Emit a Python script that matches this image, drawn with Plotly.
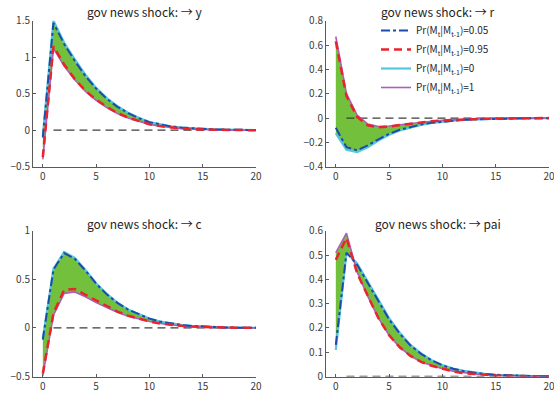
import plotly.graph_objects as go

t = list(range(21))
t_zero = list(range(1, 21))
zero_line = [0.0] * 20

# panel: y
y_p005 = [-0.10, 1.47, 1.18, 0.95, 0.74, 0.57, 0.43, 0.32, 0.235, 0.165, 0.11, 0.078, 0.052, 0.036, 0.025, 0.017, 0.012, 0.008, 0.005, 0.003, 0.002]
y_p095 = [-0.37, 1.15, 0.90, 0.70, 0.54, 0.42, 0.32, 0.235, 0.172, 0.122, 0.082, 0.056, 0.036, 0.023, 0.014, 0.009, 0.005, 0.003, 0.002, 0.001, 0.0]
y_p0 = [-0.08, 1.50, 1.20, 0.97, 0.76, 0.58, 0.44, 0.33, 0.24, 0.17, 0.112, 0.08, 0.054, 0.037, 0.026, 0.018, 0.012, 0.008, 0.005, 0.003, 0.002]
y_p1 = [-0.40, 1.12, 0.88, 0.69, 0.53, 0.41, 0.31, 0.23, 0.168, 0.12, 0.08, 0.055, 0.035, 0.022, 0.013, 0.008, 0.004, 0.002, 0.001, 0.0, 0.0]

# panel: r
r_p005 = [-0.08, -0.24, -0.265, -0.225, -0.175, -0.13, -0.097, -0.072, -0.053, -0.039, -0.029, -0.021, -0.015, -0.011, -0.008, -0.006, -0.004, -0.003, -0.002, -0.001, -0.001]
r_p095 = [0.63, 0.18, 0.01, -0.06, -0.075, -0.07, -0.058, -0.046, -0.036, -0.027, -0.02, -0.015, -0.011, -0.008, -0.006, -0.004, -0.003, -0.002, -0.001, -0.001, 0.0]
r_p0 = [-0.126, -0.26, -0.28, -0.24, -0.185, -0.138, -0.102, -0.076, -0.056, -0.041, -0.03, -0.022, -0.016, -0.012, -0.008, -0.006, -0.004, -0.003, -0.002, -0.001, -0.001]
r_p1 = [0.67, 0.20, 0.025, -0.05, -0.07, -0.066, -0.055, -0.044, -0.034, -0.026, -0.019, -0.014, -0.01, -0.007, -0.005, -0.004, -0.003, -0.002, -0.001, -0.001, 0.0]

# panel: c
c_p005 = [-0.12, 0.60, 0.77, 0.71, 0.59, 0.455, 0.345, 0.257, 0.188, 0.138, 0.095, 0.065, 0.045, 0.03, 0.02, 0.013, 0.008, 0.005, 0.003, 0.002, 0.001]
c_p095 = [-0.47, 0.15, 0.39, 0.40, 0.34, 0.28, 0.22, 0.168, 0.126, 0.093, 0.067, 0.046, 0.031, 0.021, 0.014, 0.009, 0.006, 0.004, 0.002, 0.001, 0.001]
c_p0 = [-0.11, 0.61, 0.78, 0.72, 0.595, 0.46, 0.35, 0.26, 0.19, 0.14, 0.096, 0.066, 0.046, 0.031, 0.021, 0.014, 0.009, 0.006, 0.004, 0.002, 0.001]
c_p1 = [-0.49, 0.13, 0.355, 0.37, 0.32, 0.26, 0.21, 0.16, 0.12, 0.09, 0.065, 0.045, 0.03, 0.02, 0.013, 0.008, 0.005, 0.003, 0.002, 0.001, 0.0]

# panel: pai
pai_p005 = [0.13, 0.51, 0.46, 0.385, 0.31, 0.235, 0.176, 0.128, 0.093, 0.066, 0.046, 0.032, 0.022, 0.015, 0.01, 0.007, 0.005, 0.003, 0.002, 0.001, 0.001]
pai_p095 = [0.48, 0.57, 0.425, 0.33, 0.24, 0.17, 0.12, 0.085, 0.06, 0.044, 0.031, 0.021, 0.014, 0.01, 0.006, 0.004, 0.003, 0.002, 0.001, 0.001, 0.0]
pai_p0 = [0.11, 0.51, 0.465, 0.39, 0.315, 0.24, 0.18, 0.13, 0.095, 0.067, 0.047, 0.033, 0.023, 0.016, 0.011, 0.007, 0.005, 0.003, 0.002, 0.001, 0.001]
pai_p1 = [0.51, 0.59, 0.43, 0.33, 0.24, 0.17, 0.12, 0.085, 0.06, 0.045, 0.032, 0.022, 0.015, 0.01, 0.007, 0.004, 0.003, 0.002, 0.001, 0.001, 0.0]

titles = ["gov news shock: \u2192 y", "gov news shock: \u2192 r",
          "gov news shock: \u2192 c", "gov news shock: \u2192 pai"]
legend_names = ["Pr(M<sub>t</sub>|M<sub>t-1</sub>)=0.05",
                "Pr(M<sub>t</sub>|M<sub>t-1</sub>)=0.95",
                "Pr(M<sub>t</sub>|M<sub>t-1</sub>)=0",
                "Pr(M<sub>t</sub>|M<sub>t-1</sub>)=1"]
y_ranges = [[-0.5, 1.5], [-0.4, 0.8], [-0.5, 1.0], [0, 0.6]]
y_dticks = [0.5, 0.2, 0.5, 0.1]

panels = [
    (y_p005, y_p095, y_p0, y_p1),
    (r_p005, r_p095, r_p0, r_p1),
    (c_p005, c_p095, c_p0, c_p1),
    (pai_p005, pai_p095, pai_p0, pai_p1),
]

W, H = 554, 397
x_doms = [[33 / W, 256 / W], [326 / W, 549 / W]]
y_doms = [[1 - 166.7 / H, 1 - 20.7 / H], [1 - 376.5 / H, 1 - 230.7 / H]]

GREEN = "rgb(115,192,60)"
CYAN = "rgb(85,200,220)"
MAGENTA = "rgb(172,95,185)"
BLUE = "rgb(30,75,170)"
RED = "rgb(235,35,45)"

fig = go.Figure()
for i, (p005, p095, p0, p1) in enumerate(panels):
    xa = "x" if i == 0 else f"x{i+1}"
    ya = "y" if i == 0 else f"y{i+1}"
    leg = (i == 1)
    fig.add_trace(go.Scatter(x=t, y=p1, xaxis=xa, yaxis=ya, mode="lines",
                             line=dict(width=0, color=GREEN), showlegend=False, hoverinfo="skip"))
    fig.add_trace(go.Scatter(x=t, y=p0, xaxis=xa, yaxis=ya, mode="lines", fill="tonexty",
                             fillcolor=GREEN, line=dict(width=0.8, color=GREEN),
                             showlegend=False, hoverinfo="skip"))
    fig.add_trace(go.Scatter(x=t_zero, y=zero_line, xaxis=xa, yaxis=ya, mode="lines",
                             line=dict(color="rgb(60,60,60)", width=1.3, dash="8px,5px"),
                             showlegend=False))
    fig.add_trace(go.Scatter(x=t, y=p0, xaxis=xa, yaxis=ya, mode="lines", name=legend_names[2],
                             line=dict(color=CYAN, width=2.2), showlegend=leg, legendrank=3))
    fig.add_trace(go.Scatter(x=t, y=p1, xaxis=xa, yaxis=ya, mode="lines", name=legend_names[3],
                             line=dict(color=MAGENTA, width=1.6), showlegend=leg, legendrank=4))
    fig.add_trace(go.Scatter(x=t, y=p005, xaxis=xa, yaxis=ya, mode="lines", name=legend_names[0],
                             line=dict(color=BLUE, width=2, dash="dashdot"), showlegend=leg, legendrank=1))
    fig.add_trace(go.Scatter(x=t, y=p095, xaxis=xa, yaxis=ya, mode="lines", name=legend_names[1],
                             line=dict(color=RED, width=2.5, dash="8px,5px"), showlegend=leg, legendrank=2))

axis_common = dict(showline=True, linecolor="rgb(90,90,90)", linewidth=1, ticks="inside",
                   ticklen=3, tickcolor="rgb(90,90,90)", showgrid=False, zeroline=False,
                   tickfont=dict(size=10, color="rgb(60,60,60)"), mirror=False,
                   ticklabeloverflow="allow")
layout = dict(width=W, height=H, margin=dict(l=0, r=0, t=0, b=0, autoexpand=False),
              paper_bgcolor="white", plot_bgcolor="white",
              font=dict(family="Noto Sans CJK JP, Liberation Sans, sans-serif", color="rgb(40,40,40)"),
              legend=dict(x=376 / W, y=1 - 16 / H, xanchor="left", yanchor="top",
                          bgcolor="rgba(0,0,0,0)", font=dict(size=10), tracegroupgap=0,
                          itemwidth=30, traceorder="normal"),
              annotations=[])
for i in range(4):
    col, row = i % 2, i // 2
    xk = "xaxis" if i == 0 else f"xaxis{i+1}"
    yk = "yaxis" if i == 0 else f"yaxis{i+1}"
    ya = "y" if i == 0 else f"y{i+1}"
    xa = "x" if i == 0 else f"x{i+1}"
    layout[xk] = dict(axis_common, domain=x_doms[col], range=[-0.92, 20], dtick=5, tick0=0,
                      anchor=ya)
    layout[yk] = dict(axis_common, domain=y_doms[row], range=y_ranges[i], dtick=y_dticks[i],
                      tick0=0, anchor=xa)
    cx = (x_doms[col][0] + x_doms[col][1]) / 2
    cy = 1 - (12 if row == 0 else 223) / H
    layout["annotations"].append(dict(text=titles[i], x=cx, y=cy, xref="paper", yref="paper",
                                      xanchor="center", yanchor="middle", showarrow=False,
                                      font=dict(size=12, color="rgb(30,30,30)")))
fig.update_layout(**layout)
fig.write_html("out.html", config={"displayModeBar": False},
               post_script="document.body.style.margin='0';document.body.style.overflow='hidden';")
